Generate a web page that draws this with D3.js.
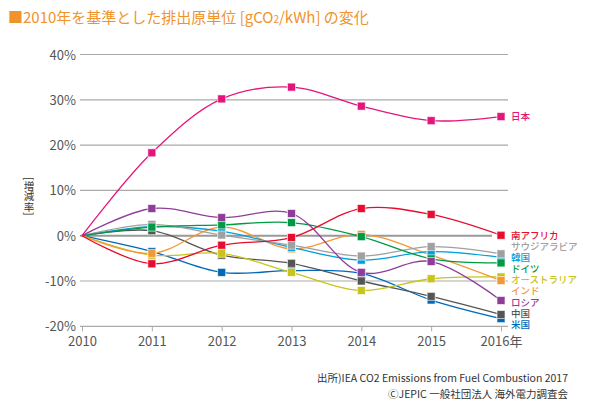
<!DOCTYPE html>
<html><head><meta charset="utf-8">
<script src="https://cdn.jsdelivr.net/npm/d3@7"></script>
<style>
body{margin:0;background:#fff;}
text{font-family:"Noto Sans CJK JP","Noto Sans",sans-serif;}
</style></head>
<body><svg id="c" width="595" height="418"></svg>
<script>
const years = [2010, 2011, 2012, 2013, 2014, 2015, 2016];
const yearLabels = ["2010","2011","2012","2013","2014","2015","2016年"];
const yTicks = [-20,-10,0,10,20,30,40];

const japan       = [0, 18.3, 30.2, 32.8, 28.6, 25.4, 26.3];
const southAfrica = [0, -6.2, -2.1, -0.4, 6.0, 4.7, 0.1];
const saudi       = [0, 2.5, 0.15, -2.1, -4.5, -2.4, -4.0];
const korea       = [0, 2.0, 1.0, -2.6, -5.4, -3.5, -4.8];
const germany     = [0, 1.9, 2.4, 2.9, -0.2, -5.1, -6.0];
const australia   = [0, -4.3, -3.9, -8.1, -12.1, -9.5, -9.1];
const india       = [0, -3.9, 1.9, -2.9, 0.3, -4.3, -9.9];
const russia      = [0, 6.0, 4.0, 4.9, -8.1, -5.7, -14.3];
const china       = [0, 1.1, -4.3, -6.1, -10.0, -13.4, -17.4];
const usa         = [0, -3.5, -8.1, -7.7, -8.3, -14.2, -18.3];

const seriesNames = ["日本","南アフリカ","サウジアラビア","韓国","ドイツ","オーストラリア","インド","ロシア","中国","米国"];
const seriesValues = [japan, southAfrica, saudi, korea, germany, australia, india, russia, china, usa];
const seriesColors = ["#e4157a","#e60d2e","#a0a0a0","#00a0dc","#009944","#c8c41c","#f39836","#8e3d98","#555555","#0068b7"];
const labelY = [116,235,246,257,268,279,290,302,313,324];
const axisTitle = "[増減率]";

const svg = d3.select("#c");
const x = d3.scaleLinear().domain([2010,2016]).range([82,501]);
const y = d3.scaleLinear().domain([-20,40]).range([326.3,54.5]);

// title
const t = svg.append("text").attr("x",8).attr("y",23).attr("fill","#f0932b").attr("font-size",15);
t.append("tspan").text("■2010年を基準とした排出原単位 [gCO");
t.append("tspan").attr("font-size",10).text("2");
t.append("tspan").text("/kWh] の変化");

// grid
yTicks.filter(v=>v!==0 && v!==-20).forEach(v=>{
  svg.append("line").attr("x1",80).attr("x2",508).attr("y1",y(v)).attr("y2",y(v))
    .attr("stroke","#aaa").attr("stroke-width",1.2);
});
svg.append("line").attr("x1",80).attr("x2",492).attr("y1",y(0)).attr("y2",y(0))
  .attr("stroke","#999").attr("stroke-width",2);

// y labels
yTicks.forEach(v=>{
  svg.append("text").attr("x",76).attr("y",y(v)+5).attr("text-anchor","end")
    .attr("font-family","Roboto, 'Noto Sans', sans-serif")
    .attr("font-size",13).attr("fill","#555").text(v+"%");
});

// x axis
const xAxis = d3.axisBottom(x).tickValues(years).tickSize(5).tickFormat((d,i)=>yearLabels[i]);
const gx = svg.append("g").attr("transform",`translate(0,${y(-20)})`).call(xAxis);
gx.select(".domain").attr("d","M80,0H508").attr("stroke","#aaa").attr("stroke-width",1.2);
gx.selectAll(".tick line").attr("stroke","#aaa");
gx.selectAll(".tick text").attr("font-size",13).attr("fill","#555").attr("dy","0.9em")
  .attr("font-family","Roboto, 'Noto Sans CJK JP', sans-serif");

// y axis title (vertical writing)
svg.append("text").attr("x",29).attr("y",177).attr("font-size",10.5).attr("fill","#333")
  .style("writing-mode","vertical-rl").text(axisTitle);

// lines
const line = d3.line().x((d,i)=>x(years[i])).y(d=>y(d)).curve(d3.curveCatmullRom.alpha(0.5));
const order = [9,8,5,6,3,2,4,7,1,0];
order.forEach(k=>{
  svg.append("path").attr("d",line(seriesValues[k])).attr("fill","none")
    .attr("stroke",seriesColors[k]).attr("stroke-width",1.3);
});
order.forEach(k=>{
  svg.selectAll(null).data(seriesValues[k].slice(1)).enter().append("rect")
    .attr("x",(d,i)=>x(years[i+1])-4).attr("y",d=>y(d)-4)
    .attr("width",8).attr("height",8).attr("fill",seriesColors[k])
    .attr("stroke","#fff").attr("stroke-opacity",0.6).attr("stroke-width",1);
});

// series labels
seriesNames.forEach((n,k)=>{
  svg.append("text").attr("x",511).attr("y",labelY[k]+3.5).attr("font-size",9.5)
    .attr("fill",seriesColors[k]).attr("font-weight",500).text(n);
});

// source
svg.append("text").attr("x",568).attr("y",382).attr("text-anchor","end").attr("font-size",10.5)
  .attr("fill","#333").text("出所)IEA CO2 Emissions from Fuel Combustion 2017");
svg.append("text").attr("x",568).attr("y",398).attr("text-anchor","end").attr("font-size",10.5)
  .attr("fill","#333").text("ⒸJEPIC 一般社団法人 海外電力調査会");
</script></body></html>
